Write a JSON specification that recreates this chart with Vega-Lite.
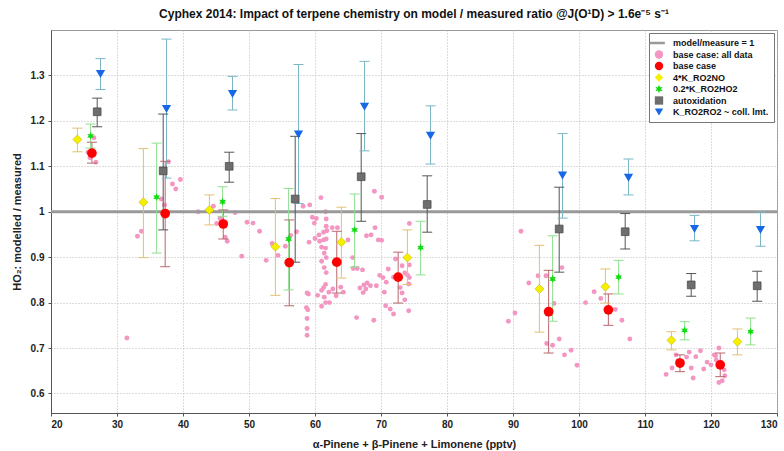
{
  "$schema": "https://vega.github.io/schema/vega-lite/v6.json",
  "width": 726,
  "height": 383,
  "autosize": "none",
  "padding": {"left": 51, "top": 30, "right": 7, "bottom": 38},
  "background": "white",
  "config": {
    "font": "Liberation Sans",
    "view": {"stroke": "#9a9a9a", "strokeWidth": 1},
    "axis": {
      "labelFont": "Liberation Sans",
      "labelFontSize": 10,
      "labelFontWeight": "bold",
      "labelColor": "#222",
      "titleFont": "Liberation Sans",
      "titleFontSize": 11,
      "titleFontWeight": "bold",
      "titleColor": "#222",
      "domainColor": "#555",
      "tickColor": "#555",
      "tickSize": 3,
      "gridColor": "#b8b8b8",
      "gridDash": [1, 2],
      "gridWidth": 1
    }
  },
  "title": {
    "text": "Cyphex 2014: Impact of terpene chemistry on model / measured ratio @J(O¹D) > 1.6e⁻⁵ s⁻¹",
    "fontSize": 12,
    "fontWeight": "bold",
    "color": "#111",
    "offset": 9
  },
  "datasets": {
    "pts": [
      {"x": 26.5, "y": 1.163}, {"x": 25.6, "y": 1.131}, {"x": 25.9, "y": 1.119}, {"x": 26.8, "y": 1.109}, {"x": 26.1, "y": 1.124},
      {"x": 37.8, "y": 1.110}, {"x": 39.6, "y": 1.071}, {"x": 38.4, "y": 1.061}, {"x": 38.9, "y": 1.050}, {"x": 36.7, "y": 1.028},
      {"x": 37.2, "y": 1.015}, {"x": 33.7, "y": 0.957}, {"x": 33.1, "y": 0.946}, {"x": 31.5, "y": 0.722},
      {"x": 42.3, "y": 1.000}, {"x": 44.6, "y": 1.012}, {"x": 45.6, "y": 0.985}, {"x": 45.1, "y": 0.974}, {"x": 46.4, "y": 0.944},
      {"x": 46.7, "y": 0.935}, {"x": 45.9, "y": 0.982},
      {"x": 47.9, "y": 0.998}, {"x": 49.7, "y": 0.977}, {"x": 50.6, "y": 0.975}, {"x": 51.6, "y": 0.957}, {"x": 48.9, "y": 0.902},
      {"x": 52.6, "y": 0.893}, {"x": 53.5, "y": 0.930}, {"x": 54.4, "y": 0.904}, {"x": 55.5, "y": 0.924}, {"x": 56.3, "y": 0.948},
      {"x": 57.2, "y": 0.956}, {"x": 58.2, "y": 1.012}, {"x": 59.2, "y": 1.015}, {"x": 60.9, "y": 1.031}, {"x": 61.6, "y": 1.000},
      {"x": 59.6, "y": 0.988}, {"x": 60.2, "y": 0.985}, {"x": 59.9, "y": 0.975}, {"x": 61.7, "y": 0.984}, {"x": 61.7, "y": 0.968},
      {"x": 60.6, "y": 0.949}, {"x": 61.3, "y": 0.955}, {"x": 61.8, "y": 0.958}, {"x": 59.1, "y": 0.933}, {"x": 60.0, "y": 0.941},
      {"x": 60.7, "y": 0.935}, {"x": 61.3, "y": 0.938}, {"x": 61.7, "y": 0.940}, {"x": 61.0, "y": 0.922}, {"x": 61.6, "y": 0.920},
      {"x": 61.4, "y": 0.909}, {"x": 61.0, "y": 0.891}, {"x": 61.7, "y": 0.899}, {"x": 61.4, "y": 0.877}, {"x": 61.7, "y": 0.866},
      {"x": 62.6, "y": 0.965}, {"x": 63.4, "y": 0.965}, {"x": 65.0, "y": 0.938}, {"x": 58.8, "y": 0.821}, {"x": 59.0, "y": 0.819},
      {"x": 60.4, "y": 0.816}, {"x": 61.3, "y": 0.833}, {"x": 61.6, "y": 0.840}, {"x": 61.0, "y": 0.827}, {"x": 61.4, "y": 0.812},
      {"x": 62.1, "y": 0.823}, {"x": 62.7, "y": 0.830}, {"x": 63.9, "y": 0.834}, {"x": 64.3, "y": 0.823}, {"x": 63.2, "y": 0.815},
      {"x": 61.0, "y": 0.792}, {"x": 61.6, "y": 0.800}, {"x": 62.2, "y": 0.800}, {"x": 58.7, "y": 0.789}, {"x": 58.9, "y": 0.784},
      {"x": 58.8, "y": 0.765}, {"x": 58.8, "y": 0.743}, {"x": 58.8, "y": 0.728}, {"x": 66.3, "y": 0.767}, {"x": 68.9, "y": 0.761},
      {"x": 65.7, "y": 0.899}, {"x": 66.4, "y": 0.875}, {"x": 65.8, "y": 0.875}, {"x": 67.2, "y": 0.872}, {"x": 69.0, "y": 1.045},
      {"x": 70.1, "y": 1.032}, {"x": 69.1, "y": 0.965}, {"x": 67.8, "y": 0.947}, {"x": 68.5, "y": 0.949}, {"x": 69.6, "y": 0.938},
      {"x": 70.1, "y": 0.937}, {"x": 69.8, "y": 0.860}, {"x": 70.3, "y": 0.855}, {"x": 69.3, "y": 0.837}, {"x": 67.9, "y": 0.843},
      {"x": 67.7, "y": 0.830}, {"x": 66.8, "y": 0.832}, {"x": 67.3, "y": 0.822}, {"x": 68.4, "y": 0.837}, {"x": 70.5, "y": 0.823},
      {"x": 71.1, "y": 0.874}, {"x": 70.8, "y": 0.845}, {"x": 71.9, "y": 0.856}, {"x": 72.2, "y": 0.896}, {"x": 73.2, "y": 0.881},
      {"x": 73.6, "y": 0.865}, {"x": 74.0, "y": 0.861}, {"x": 74.3, "y": 0.855}, {"x": 74.3, "y": 0.883}, {"x": 74.3, "y": 0.974},
      {"x": 74.2, "y": 0.841}, {"x": 72.9, "y": 0.833}, {"x": 73.2, "y": 0.821}, {"x": 73.6, "y": 0.806}, {"x": 70.7, "y": 0.793},
      {"x": 71.4, "y": 0.786}, {"x": 71.9, "y": 0.775}, {"x": 74.2, "y": 0.782}, {"x": 67.4, "y": 0.839},
      {"x": 91.2, "y": 0.957}, {"x": 97.4, "y": 0.877}, {"x": 93.8, "y": 0.859}, {"x": 95.0, "y": 0.859}, {"x": 92.4, "y": 0.843},
      {"x": 96.2, "y": 0.798}, {"x": 90.3, "y": 0.777}, {"x": 89.3, "y": 0.759}, {"x": 95.1, "y": 0.710}, {"x": 96.0, "y": 0.706},
      {"x": 97.0, "y": 0.720}, {"x": 97.8, "y": 0.685}, {"x": 98.8, "y": 0.695}, {"x": 99.7, "y": 0.662}, {"x": 102.3, "y": 0.824},
      {"x": 103.3, "y": 0.809}, {"x": 101.0, "y": 0.800}, {"x": 105.5, "y": 0.785}, {"x": 106.5, "y": 0.761}, {"x": 107.7, "y": 0.720},
      {"x": 113.2, "y": 0.642}, {"x": 114.1, "y": 0.656}, {"x": 114.7, "y": 0.685}, {"x": 115.0, "y": 0.672}, {"x": 116.3, "y": 0.680},
      {"x": 116.7, "y": 0.691}, {"x": 117.7, "y": 0.681}, {"x": 118.4, "y": 0.694}, {"x": 117.0, "y": 0.656}, {"x": 118.9, "y": 0.654},
      {"x": 117.3, "y": 0.634}, {"x": 119.4, "y": 0.669}, {"x": 120.0, "y": 0.663}, {"x": 120.5, "y": 0.685}, {"x": 120.8, "y": 0.673},
      {"x": 121.2, "y": 0.700}, {"x": 120.7, "y": 0.683}, {"x": 122.1, "y": 0.639}, {"x": 121.7, "y": 0.628}, {"x": 121.2, "y": 0.624},
      {"x": 122.0, "y": 0.652}
    ],
    "sum": [
      {"series": "base case", "x": 26.2, "y": 1.129, "lo": 1.107, "hi": 1.153},
      {"series": "base case", "x": 37.3, "y": 0.996, "lo": 0.879, "hi": 1.111},
      {"series": "base case", "x": 46.1, "y": 0.973, "lo": 0.940, "hi": 1.004},
      {"series": "base case", "x": 56.1, "y": 0.888, "lo": 0.793, "hi": 0.982},
      {"series": "base case", "x": 63.3, "y": 0.889, "lo": 0.821, "hi": 0.957},
      {"series": "base case", "x": 72.6, "y": 0.856, "lo": 0.799, "hi": 0.911},
      {"series": "base case", "x": 95.4, "y": 0.780, "lo": 0.689, "hi": 0.871},
      {"series": "base case", "x": 104.45, "y": 0.784, "lo": 0.750, "hi": 0.819},
      {"series": "base case", "x": 115.3, "y": 0.667, "lo": 0.648, "hi": 0.685},
      {"series": "base case", "x": 121.4, "y": 0.663, "lo": 0.637, "hi": 0.689},
      {"series": "4*K_RO2NO", "x": 24, "y": 1.159, "lo": 1.132, "hi": 1.184},
      {"series": "4*K_RO2NO", "x": 34, "y": 1.021, "lo": 0.899, "hi": 1.139},
      {"series": "4*K_RO2NO", "x": 44, "y": 1.004, "lo": 0.971, "hi": 1.037},
      {"series": "4*K_RO2NO", "x": 54, "y": 0.923, "lo": 0.816, "hi": 1.029},
      {"series": "4*K_RO2NO", "x": 64, "y": 0.933, "lo": 0.854, "hi": 1.010},
      {"series": "4*K_RO2NO", "x": 74, "y": 0.899, "lo": 0.840, "hi": 0.960},
      {"series": "4*K_RO2NO", "x": 94, "y": 0.830, "lo": 0.735, "hi": 0.926},
      {"series": "4*K_RO2NO", "x": 104, "y": 0.835, "lo": 0.799, "hi": 0.874},
      {"series": "4*K_RO2NO", "x": 114, "y": 0.717, "lo": 0.696, "hi": 0.736},
      {"series": "4*K_RO2NO", "x": 124, "y": 0.714, "lo": 0.685, "hi": 0.742},
      {"series": "0.2*K_RO2HO2", "x": 26, "y": 1.167, "lo": 1.140, "hi": 1.193},
      {"series": "0.2*K_RO2HO2", "x": 36, "y": 1.032, "lo": 0.909, "hi": 1.151},
      {"series": "0.2*K_RO2HO2", "x": 46, "y": 1.022, "lo": 0.990, "hi": 1.055},
      {"series": "0.2*K_RO2HO2", "x": 56, "y": 0.940, "lo": 0.828, "hi": 1.051},
      {"series": "0.2*K_RO2HO2", "x": 66, "y": 0.960, "lo": 0.878, "hi": 1.039},
      {"series": "0.2*K_RO2HO2", "x": 76, "y": 0.921, "lo": 0.861, "hi": 0.979},
      {"series": "0.2*K_RO2HO2", "x": 96, "y": 0.852, "lo": 0.759, "hi": 0.947},
      {"series": "0.2*K_RO2HO2", "x": 106, "y": 0.856, "lo": 0.819, "hi": 0.893},
      {"series": "0.2*K_RO2HO2", "x": 116, "y": 0.739, "lo": 0.718, "hi": 0.758},
      {"series": "0.2*K_RO2HO2", "x": 126, "y": 0.736, "lo": 0.707, "hi": 0.766},
      {"series": "autoxidation", "x": 27, "y": 1.220, "lo": 1.187, "hi": 1.250},
      {"series": "autoxidation", "x": 37, "y": 1.090, "lo": 0.960, "hi": 1.215},
      {"series": "autoxidation", "x": 47, "y": 1.100, "lo": 1.065, "hi": 1.131},
      {"series": "autoxidation", "x": 57, "y": 1.028, "lo": 0.889, "hi": 1.166},
      {"series": "autoxidation", "x": 67, "y": 1.077, "lo": 0.979, "hi": 1.172},
      {"series": "autoxidation", "x": 77, "y": 1.016, "lo": 0.955, "hi": 1.079},
      {"series": "autoxidation", "x": 97, "y": 0.962, "lo": 0.867, "hi": 1.054},
      {"series": "autoxidation", "x": 107, "y": 0.956, "lo": 0.918, "hi": 0.996},
      {"series": "autoxidation", "x": 117, "y": 0.839, "lo": 0.814, "hi": 0.864},
      {"series": "autoxidation", "x": 127, "y": 0.837, "lo": 0.803, "hi": 0.869},
      {"series": "K_RO2RO2 ~ coll. lmt.", "x": 27.5, "y": 1.303, "lo": 1.269, "hi": 1.337},
      {"series": "K_RO2RO2 ~ coll. lmt.", "x": 37.5, "y": 1.226, "lo": 1.074, "hi": 1.380},
      {"series": "K_RO2RO2 ~ coll. lmt.", "x": 47.5, "y": 1.259, "lo": 1.224, "hi": 1.298},
      {"series": "K_RO2RO2 ~ coll. lmt.", "x": 57.5, "y": 1.170, "lo": 1.018, "hi": 1.324},
      {"series": "K_RO2RO2 ~ coll. lmt.", "x": 67.5, "y": 1.231, "lo": 1.134, "hi": 1.331},
      {"series": "K_RO2RO2 ~ coll. lmt.", "x": 77.5, "y": 1.167, "lo": 1.105, "hi": 1.233},
      {"series": "K_RO2RO2 ~ coll. lmt.", "x": 97.5, "y": 1.080, "lo": 0.986, "hi": 1.172},
      {"series": "K_RO2RO2 ~ coll. lmt.", "x": 107.5, "y": 1.075, "lo": 1.037, "hi": 1.116},
      {"series": "K_RO2RO2 ~ coll. lmt.", "x": 117.5, "y": 0.962, "lo": 0.936, "hi": 0.992},
      {"series": "K_RO2RO2 ~ coll. lmt.", "x": 127.5, "y": 0.960, "lo": 0.924, "hi": 0.999}
    ]
  },
  "layer": [
    {
      "data": {"name": "pts"},
      "mark": {"type": "point", "filled": true, "opacity": 1, "size": 24},
      "encoding": {
        "x": {"field": "x", "type": "quantitative", "title": "α-Pinene + β-Pinene + Limonene (pptv)",
              "scale": {"domain": [20, 130], "nice": false, "zero": false},
              "axis": {"values": [20, 30, 40, 50, 60, 70, 80, 90, 100, 110, 120, 130], "labelPadding": 3, "titlePadding": 9}},
        "y": {"field": "y", "type": "quantitative", "title": "HO₂: modelled / measured",
              "scale": {"domain": [0.557, 1.4], "nice": false, "zero": false},
              "axis": {"values": [0.6, 0.7, 0.8, 0.9, 1.0, 1.1, 1.2, 1.3], "format": ".1~f", "labelPadding": 4, "titlePadding": 8}},
        "color": {"datum": "base case: all data", "type": "nominal",
          "scale": {
            "domain": ["model/measure = 1", "base case: all data", "base case", "4*K_RO2NO", "0.2*K_RO2HO2", "autoxidation", "K_RO2RO2 ~ coll. lmt."],
            "range": ["#9a9a9a", "#f396c2", "#ff0000", "#f5f000", "#10dc10", "#6e6e6e", "#1668e6"]
          },
          "legend": {
            "title": null, "orient": "top-right", "offset": 3, "padding": 5,
            "fillColor": "white", "strokeColor": "#777",
            "labelFont": "Liberation Sans", "labelFontSize": 9, "labelFontWeight": "bold", "labelColor": "#111",
            "labelOffset": 9, "symbolSize": 70,
            "rowPadding": 1.5, "symbolLimit": 10
          }
        },
        "shape": {"datum": "base case: all data", "type": "nominal",
          "scale": {
            "domain": ["model/measure = 1", "base case: all data", "base case", "4*K_RO2NO", "0.2*K_RO2HO2", "autoxidation", "K_RO2RO2 ~ coll. lmt."],
            "range": ["M-2.2,-0.3L1.4,-0.3L1.4,0.3L-2.2,0.3Z", "circle", "circle", "diamond", "M0,-1L0.25,-0.433L0.866,-0.5L0.5,0L0.866,0.5L0.25,0.433L0,1L-0.25,0.433L-0.866,0.5L-0.5,0L-0.866,-0.5L-0.25,-0.433Z", "square", "triangle-down"]
          },
          "legend": {"title": null}
        }
      }
    },
    {
      "data": {"values": [{}]},
      "mark": {"type": "rule", "color": "#9a9a9a", "strokeWidth": 3},
      "encoding": {"y": {"datum": 1, "type": "quantitative"}}
    },
    {
      "data": {"name": "sum"},
      "mark": {"type": "rule", "strokeWidth": 1},
      "encoding": {
        "x": {"field": "x", "type": "quantitative", "title": "α-Pinene + β-Pinene + Limonene (pptv)"},
        "y": {"field": "lo", "type": "quantitative", "title": "HO₂: modelled / measured"},
        "y2": {"field": "hi"},
        "stroke": {"field": "series", "type": "nominal", "legend": null,
          "scale": {"domain": ["base case", "4*K_RO2NO", "0.2*K_RO2HO2", "autoxidation", "K_RO2RO2 ~ coll. lmt."],
                    "range": ["#b8676c", "#e3c070", "#8fdf8f", "#555555", "#7ab6c6"]}}
      }
    },
    {
      "data": {"name": "sum"},
      "mark": {"type": "rule", "strokeWidth": 1, "xOffset": -5, "x2Offset": 5},
      "encoding": {
        "x": {"field": "x", "type": "quantitative", "title": "α-Pinene + β-Pinene + Limonene (pptv)"},
        "x2": {"field": "x"},
        "y": {"field": "lo", "type": "quantitative", "title": "HO₂: modelled / measured"},
        "stroke": {"field": "series", "type": "nominal", "legend": null}
      }
    },
    {
      "data": {"name": "sum"},
      "mark": {"type": "rule", "strokeWidth": 1, "xOffset": -5, "x2Offset": 5},
      "encoding": {
        "x": {"field": "x", "type": "quantitative", "title": "α-Pinene + β-Pinene + Limonene (pptv)"},
        "x2": {"field": "x"},
        "y": {"field": "hi", "type": "quantitative", "title": "HO₂: modelled / measured"},
        "stroke": {"field": "series", "type": "nominal", "legend": null}
      }
    },
    {
      "data": {"name": "sum"},
      "transform": [{"filter": "datum.series === 'base case'"}],
      "mark": {"type": "point", "filled": true, "opacity": 1, "size": 95},
      "encoding": {
        "x": {"field": "x", "type": "quantitative", "title": "α-Pinene + β-Pinene + Limonene (pptv)"},
        "y": {"field": "y", "type": "quantitative", "title": "HO₂: modelled / measured"},
        "color": {"field": "series", "type": "nominal", "title": null},
        "shape": {"field": "series", "type": "nominal", "title": null}
      }
    },
    {
      "data": {"name": "sum"},
      "transform": [{"filter": "datum.series === '4*K_RO2NO'"}],
      "mark": {"type": "point", "filled": true, "opacity": 1, "size": 80, "stroke": "#c8b400", "strokeWidth": 0.6},
      "encoding": {
        "x": {"field": "x", "type": "quantitative", "title": "α-Pinene + β-Pinene + Limonene (pptv)"},
        "y": {"field": "y", "type": "quantitative", "title": "HO₂: modelled / measured"},
        "color": {"field": "series", "type": "nominal", "title": null},
        "shape": {"field": "series", "type": "nominal", "title": null}
      }
    },
    {
      "data": {"name": "sum"},
      "transform": [{"filter": "datum.series === '0.2*K_RO2HO2'"}],
      "mark": {"type": "point", "filled": true, "opacity": 1, "size": 60},
      "encoding": {
        "x": {"field": "x", "type": "quantitative", "title": "α-Pinene + β-Pinene + Limonene (pptv)"},
        "y": {"field": "y", "type": "quantitative", "title": "HO₂: modelled / measured"},
        "color": {"field": "series", "type": "nominal", "title": null},
        "shape": {"field": "series", "type": "nominal", "title": null}
      }
    },
    {
      "data": {"name": "sum"},
      "transform": [{"filter": "datum.series === 'autoxidation'"}],
      "mark": {"type": "point", "filled": true, "opacity": 1, "size": 60, "stroke": "#444", "strokeWidth": 0.7},
      "encoding": {
        "x": {"field": "x", "type": "quantitative", "title": "α-Pinene + β-Pinene + Limonene (pptv)"},
        "y": {"field": "y", "type": "quantitative", "title": "HO₂: modelled / measured"},
        "color": {"field": "series", "type": "nominal", "title": null},
        "shape": {"field": "series", "type": "nominal", "title": null}
      }
    },
    {
      "data": {"name": "sum"},
      "transform": [{"filter": "datum.series === 'K_RO2RO2 ~ coll. lmt.'"}],
      "mark": {"type": "point", "filled": true, "opacity": 1, "size": 85},
      "encoding": {
        "x": {"field": "x", "type": "quantitative", "title": "α-Pinene + β-Pinene + Limonene (pptv)"},
        "y": {"field": "y", "type": "quantitative", "title": "HO₂: modelled / measured"},
        "color": {"field": "series", "type": "nominal", "title": null},
        "shape": {"field": "series", "type": "nominal", "title": null}
      }
    }
  ]
}
